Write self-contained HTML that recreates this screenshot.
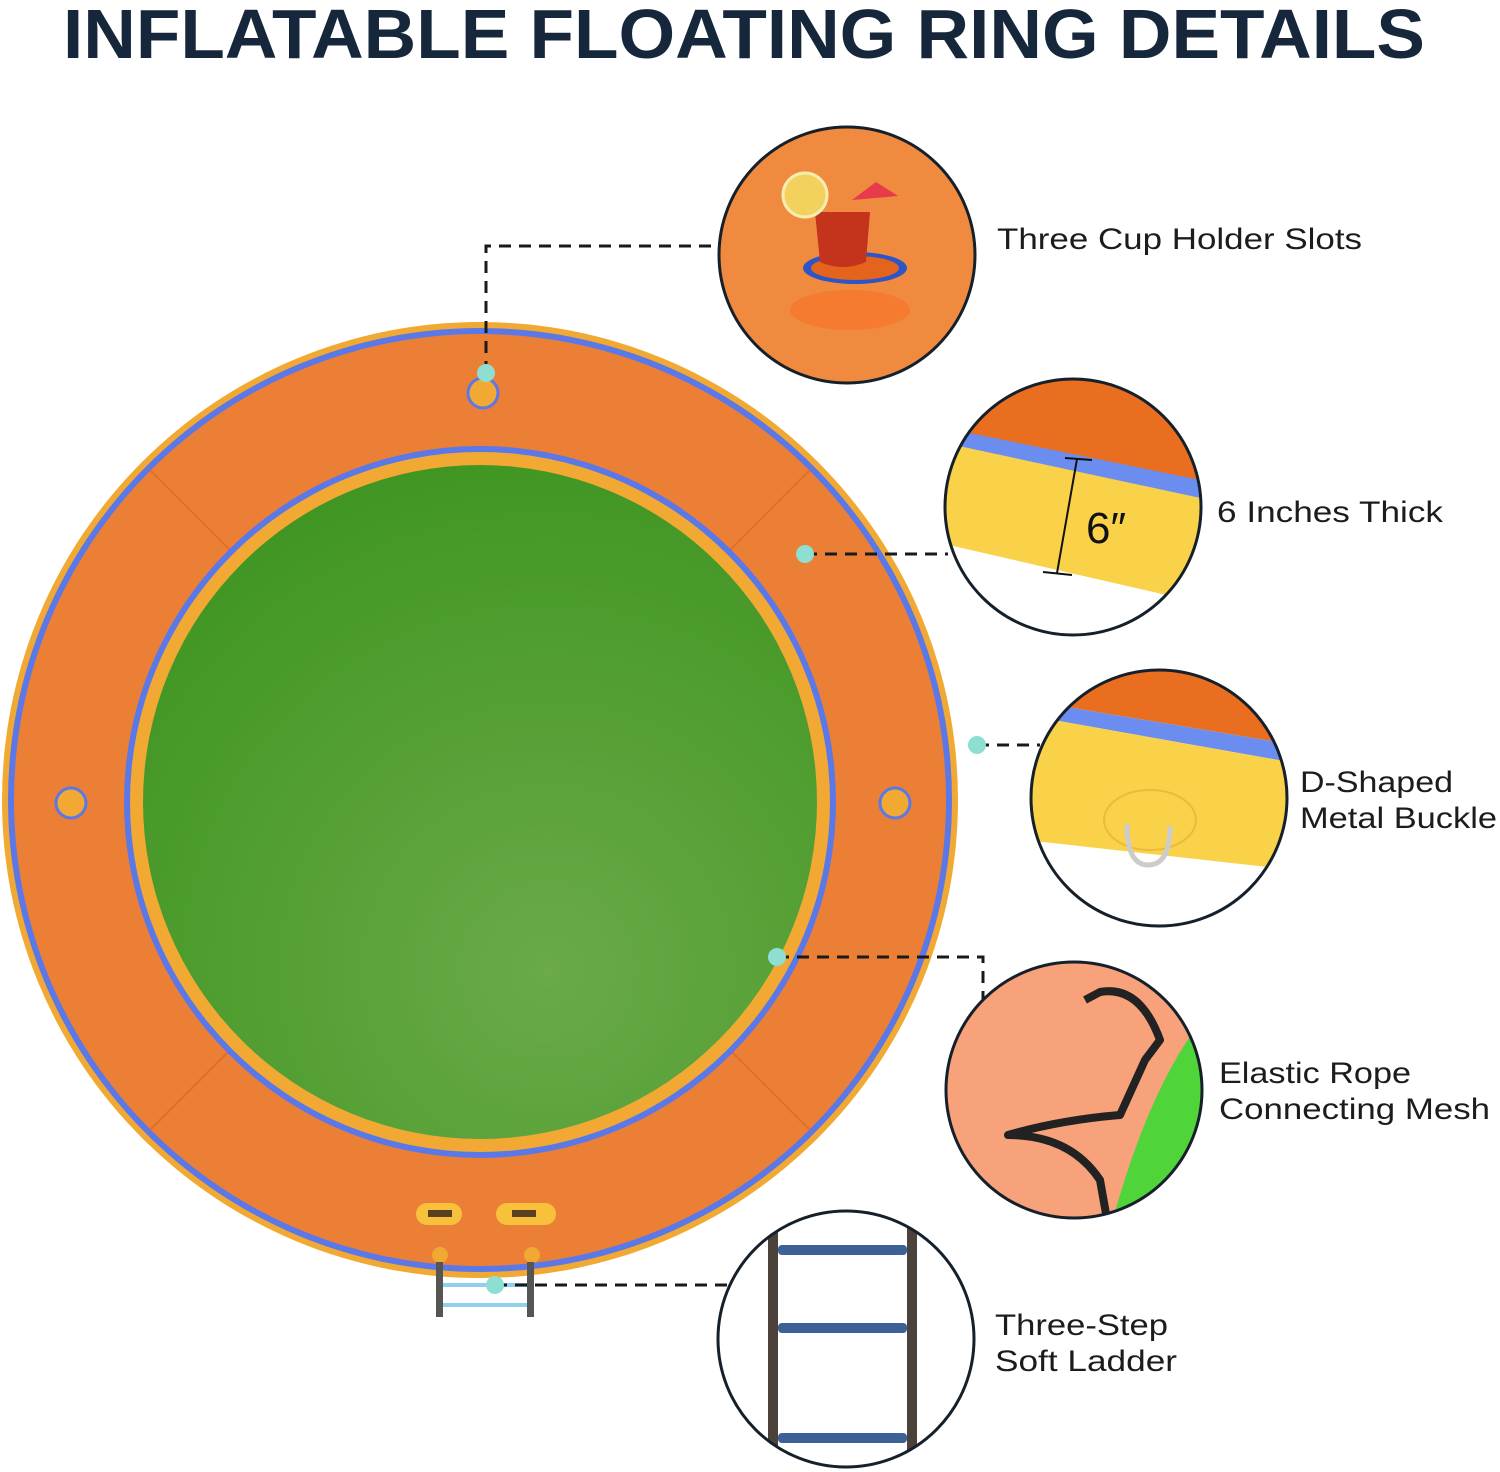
<!DOCTYPE html>
<html><head><meta charset="utf-8"><style>
html,body{margin:0;padding:0;background:#fff;}
svg{display:block}
text{font-family:"Liberation Sans",sans-serif;}
</style></head><body>
<svg width="1500" height="1472" viewBox="0 0 1500 1472" xmlns="http://www.w3.org/2000/svg">
<defs>
<radialGradient id="grn" cx="0.6" cy="0.75" r="0.8"><stop offset="0" stop-color="#6aaa48"/><stop offset="1" stop-color="#3f9521"/></radialGradient>
<clipPath id="c1"><circle cx="847" cy="255" r="127"/></clipPath>
<clipPath id="c2"><circle cx="1073" cy="507" r="127"/></clipPath>
<clipPath id="c3"><circle cx="1159" cy="798" r="127"/></clipPath>
<clipPath id="c4"><circle cx="1074" cy="1090" r="127"/></clipPath>
<clipPath id="c5"><circle cx="846" cy="1339" r="127"/></clipPath>
</defs>
<text x="744" y="58" text-anchor="middle" font-size="70" font-weight="bold" fill="#17273b" textLength="1362" lengthAdjust="spacingAndGlyphs">INFLATABLE FLOATING RING DETAILS</text>

<circle cx="480" cy="800" r="478" fill="#f2a933"/>
<circle cx="480" cy="800" r="472" fill="#5b78e8"/>
<circle cx="480" cy="800" r="466" fill="#ec7f36"/>
<g stroke="#d96a28" stroke-width="2" opacity="0.7">
<line x1="150" y1="470" x2="230" y2="550"/><line x1="810" y1="470" x2="730" y2="550"/>
<line x1="150" y1="1130" x2="230" y2="1050"/><line x1="810" y1="1130" x2="730" y2="1050"/>
</g>
<circle cx="480" cy="802" r="356" fill="#5b78e8"/>
<circle cx="480" cy="802" r="350" fill="#f2a933"/>
<circle cx="480" cy="802" r="337" fill="url(#grn)"/>
<g fill="#f2a933" stroke="#5b78e8" stroke-width="3">
<circle cx="483" cy="393" r="15"/><circle cx="71" cy="803" r="15"/><circle cx="895" cy="803" r="15"/>
</g>
<rect x="416" y="1203" width="46" height="22" rx="11" fill="#f7c13b"/>
<rect x="496" y="1203" width="60" height="22" rx="11" fill="#f7c13b"/>
<rect x="428" y="1210" width="24" height="7" fill="#5a3f20"/>
<rect x="512" y="1210" width="24" height="7" fill="#5a3f20"/>
<circle cx="440" cy="1255" r="8" fill="#f2a933"/><circle cx="532" cy="1255" r="8" fill="#f2a933"/>
<rect x="436" y="1262" width="7" height="55" fill="#555"/>
<rect x="527" y="1262" width="7" height="55" fill="#555"/>
<rect x="443" y="1283" width="84" height="4" fill="#8fd0ec"/>
<rect x="443" y="1303" width="84" height="4" fill="#8fd0ec"/>

<g stroke="#1a1a1a" stroke-width="3" stroke-dasharray="12,8" fill="none">
<polyline points="486,373 486,246 718,246"/>
<line x1="805" y1="554" x2="948" y2="554"/>
<line x1="977" y1="745" x2="1040" y2="745"/>
<polyline points="777,957 983,957 983,1000"/>
<line x1="495" y1="1285" x2="730" y2="1285"/>
</g>
<g fill="#8edfd2">
<circle cx="486" cy="373" r="9"/><circle cx="805" cy="554" r="9"/><circle cx="977" cy="745" r="9"/><circle cx="777" cy="957" r="9"/><circle cx="495" cy="1285" r="9"/>
</g>

<g clip-path="url(#c1)">
<rect x="715" y="125" width="265" height="265" fill="#f08a3e"/>
<ellipse cx="855" cy="268" rx="52" ry="16" fill="#2d55c8"/>
<ellipse cx="855" cy="268" rx="44" ry="12" fill="#e4631d"/>
<ellipse cx="850" cy="310" rx="60" ry="20" fill="#f7762d" opacity="0.8"/>
<path d="M815 212 L870 212 L866 262 Q842 272 820 262 Z" fill="#c4331b"/>
<ellipse cx="805" cy="195" rx="22" ry="22" fill="#f2d25c" stroke="#f6eeb0" stroke-width="3"/>
<path d="M852 200 L876 182 L898 196 Z" fill="#e73a4a"/>
</g>
<circle cx="847" cy="255" r="128" fill="none" stroke="#15202b" stroke-width="3"/>
<text x="997" y="249" font-size="30" fill="#1c1c1c" textLength="365" lengthAdjust="spacingAndGlyphs">Three Cup Holder Slots</text>

<g clip-path="url(#c2)">
<rect x="940" y="375" width="270" height="270" fill="#ea6e1f"/>
<polygon points="940,427 1210,482 1210,645 940,645" fill="#6b8df0"/>
<polygon points="940,442 1210,500 1210,645 940,645" fill="#fad24a"/>
<polygon points="940,543 1210,605 1210,645 940,645" fill="#fff"/>
</g>
<line x1="1077" y1="459" x2="1057" y2="573" stroke="#111" stroke-width="2"/>
<line x1="1065" y1="458" x2="1092" y2="460" stroke="#111" stroke-width="2"/>
<line x1="1043" y1="572" x2="1072" y2="575" stroke="#111" stroke-width="2"/>
<text x="1086" y="543" font-size="44" fill="#111">6″</text>
<circle cx="1073" cy="507" r="128" fill="none" stroke="#15202b" stroke-width="3"/>
<text x="1217" y="522" font-size="30" fill="#1c1c1c" textLength="226" lengthAdjust="spacingAndGlyphs">6 Inches Thick</text>

<g clip-path="url(#c3)">
<rect x="1025" y="665" width="270" height="270" fill="#fff"/>
<polygon points="1025,665 1295,665 1295,745 1025,700" fill="#ea6e1f"/>
<polygon points="1025,700 1295,745 1295,763 1025,715" fill="#6b8df0"/>
<polygon points="1025,715 1295,763 1295,870 1025,840" fill="#fad24a"/>
</g>
<ellipse cx="1150" cy="820" rx="46" ry="30" fill="none" stroke="#e9bb3a" stroke-width="2"/>
<path d="M1127 824 Q1127 865 1148 865 Q1170 865 1170 826" fill="none" stroke="#ccc" stroke-width="5"/>
<circle cx="1159" cy="798" r="128" fill="none" stroke="#15202b" stroke-width="3"/>
<text x="1300" y="792" font-size="30" fill="#1c1c1c" textLength="153" lengthAdjust="spacingAndGlyphs">D-Shaped</text>
<text x="1300" y="828" font-size="30" fill="#1c1c1c" textLength="197" lengthAdjust="spacingAndGlyphs">Metal Buckle</text>

<g clip-path="url(#c4)">
<rect x="940" y="960" width="270" height="270" fill="#f7a27a"/>
<path d="M1210 1010 Q1150 1080 1110 1230 L1210 1230 Z" fill="#4fd43a"/>
<path d="M1085 1000 L1100 992 Q1140 985 1160 1040 L1145 1060 L1120 1115 Q1060 1120 1008 1135 Q1070 1135 1100 1180 L1108 1225" fill="none" stroke="#222" stroke-width="8" stroke-linejoin="round"/>
</g>
<circle cx="1074" cy="1090" r="128" fill="none" stroke="#15202b" stroke-width="3"/>
<text x="1219" y="1083" font-size="30" fill="#1c1c1c" textLength="192" lengthAdjust="spacingAndGlyphs">Elastic Rope</text>
<text x="1219" y="1119" font-size="30" fill="#1c1c1c" textLength="271" lengthAdjust="spacingAndGlyphs">Connecting Mesh</text>

<g clip-path="url(#c5)">
<rect x="768" y="1205" width="10" height="270" fill="#4a423b"/>
<rect x="907" y="1205" width="10" height="270" fill="#4a423b"/>
<rect x="778" y="1245" width="129" height="10" rx="4" fill="#3b6196"/>
<rect x="778" y="1323" width="129" height="10" rx="4" fill="#3b6196"/>
<rect x="778" y="1433" width="129" height="10" rx="4" fill="#3b6196"/>
</g>
<circle cx="846" cy="1339" r="128" fill="none" stroke="#15202b" stroke-width="3"/>
<text x="995" y="1335" font-size="30" fill="#1c1c1c" textLength="173" lengthAdjust="spacingAndGlyphs">Three-Step</text>
<text x="995" y="1371" font-size="30" fill="#1c1c1c" textLength="182" lengthAdjust="spacingAndGlyphs">Soft Ladder</text>
</svg>
</body></html>
